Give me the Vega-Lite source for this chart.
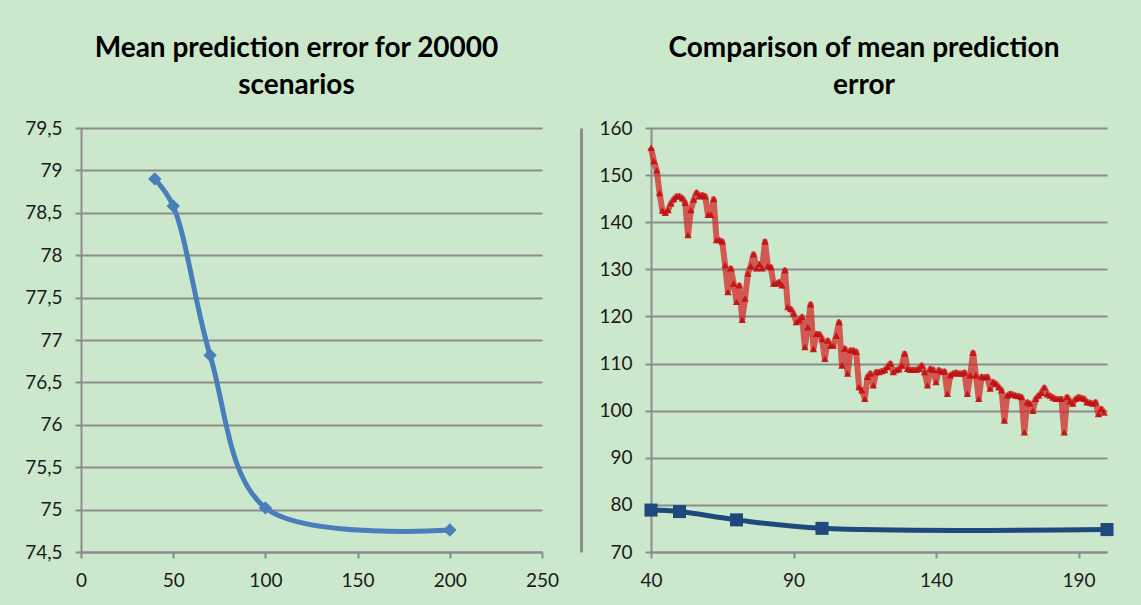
{
  "$schema": "https://vega.github.io/schema/vega-lite/v6.json",
  "background": "#CCE8CC",
  "padding": {"left": 24, "top": 35, "right": 40, "bottom": 20},
  "spacing": 109,
  "bounds": "flush",
  "datasets": {
    "scen": [
      {"n": 40, "err": 78.9},
      {"n": 50, "err": 78.58},
      {"n": 70, "err": 76.82},
      {"n": 100, "err": 75.02},
      {"n": 200, "err": 74.76}
    ],
    "red": [
      {"n":40,"err":155.8},{"n":41,"err":153},{"n":42,"err":151},{"n":43,"err":146.2},{"n":44,"err":142.5},
      {"n":45,"err":142},{"n":46,"err":142.6},{"n":47,"err":144},{"n":48,"err":144.9},{"n":49,"err":145.5},
      {"n":50,"err":145.5},{"n":51,"err":145.1},{"n":52,"err":144.1},{"n":53,"err":137.3},{"n":54,"err":142.6},
      {"n":55,"err":144.8},{"n":56,"err":146.3},{"n":57,"err":145.5},{"n":58,"err":145.8},{"n":59,"err":145.5},
      {"n":60,"err":141.6},{"n":61,"err":141.6},{"n":62,"err":144.9},{"n":63,"err":136.2},{"n":64,"err":136.2},
      {"n":65,"err":135.9},{"n":66,"err":130.9},{"n":67,"err":125.2},{"n":68,"err":130.2},{"n":69,"err":127},
      {"n":70,"err":123.1},{"n":71,"err":126.6},{"n":72,"err":119.3},{"n":73,"err":123.8},{"n":74,"err":129.1},
      {"n":75,"err":130.7},{"n":76,"err":133.2},{"n":77,"err":130.2},{"n":78,"err":131.1},{"n":79,"err":130.2},
      {"n":80,"err":135.9},{"n":81,"err":130.7},{"n":82,"err":130.5},{"n":83,"err":127},{"n":84,"err":127},
      {"n":85,"err":127.3},{"n":86,"err":126.6},{"n":87,"err":129.8},{"n":88,"err":122},{"n":89,"err":121.6},
      {"n":90,"err":120.6},{"n":91,"err":118.8},{"n":92,"err":119.2},{"n":93,"err":119.9},{"n":94,"err":113.5},
      {"n":95,"err":117.7},{"n":96,"err":122.6},{"n":97,"err":113.1},{"n":98,"err":116.3},{"n":99,"err":116.3},
      {"n":100,"err":115.2},{"n":101,"err":111},{"n":102,"err":114.9},{"n":103,"err":113.8},{"n":104,"err":113.8},
      {"n":105,"err":115.9},{"n":106,"err":118.8},{"n":107,"err":109.6},{"n":108,"err":113.2},{"n":109,"err":107.9},
      {"n":110,"err":112.8},{"n":111,"err":112.8},{"n":112,"err":112.5},{"n":113,"err":105},{"n":114,"err":104.3},
      {"n":115,"err":102.5},{"n":116,"err":107.2},{"n":117,"err":107.9},{"n":118,"err":105.4},{"n":119,"err":108.2},
      {"n":120,"err":108.2},{"n":121,"err":108.4},{"n":122,"err":108.6},{"n":123,"err":109.3},{"n":124,"err":110},
      {"n":125,"err":108.2},{"n":126,"err":108.6},{"n":127,"err":108.8},{"n":128,"err":109.6},{"n":129,"err":112.1},
      {"n":130,"err":108.9},{"n":131,"err":108.7},{"n":132,"err":108.7},{"n":133,"err":108.7},{"n":134,"err":108.9},
      {"n":135,"err":109.6},{"n":136,"err":108.2},{"n":137,"err":105.4},{"n":138,"err":108.9},{"n":139,"err":108.7},
      {"n":140,"err":106.1},{"n":141,"err":108.6},{"n":142,"err":108.3},{"n":143,"err":108.3},{"n":144,"err":103.6},
      {"n":145,"err":107.5},{"n":146,"err":107.9},{"n":147,"err":108.1},{"n":148,"err":107.9},{"n":149,"err":107.9},
      {"n":150,"err":108.1},{"n":151,"err":103.6},{"n":152,"err":107.5},{"n":153,"err":112.3},{"n":154,"err":107.5},
      {"n":155,"err":102.5},{"n":156,"err":107.2},{"n":157,"err":107.1},{"n":158,"err":107.2},{"n":159,"err":104.7},
      {"n":160,"err":106.1},{"n":161,"err":105.7},{"n":162,"err":105},{"n":163,"err":104.3},{"n":164,"err":97.9},
      {"n":165,"err":103.2},{"n":166,"err":103.6},{"n":167,"err":103.4},{"n":168,"err":103.2},{"n":169,"err":103.1},
      {"n":170,"err":102.9},{"n":171,"err":95.4},{"n":172,"err":101.8},{"n":173,"err":101.5},{"n":174,"err":100},
      {"n":175,"err":102.5},{"n":176,"err":103.2},{"n":177,"err":103.8},{"n":178,"err":104.9},{"n":179,"err":103.5},
      {"n":180,"err":103.2},{"n":181,"err":102.8},{"n":182,"err":102.5},{"n":183,"err":102.5},{"n":184,"err":102.5},
      {"n":185,"err":95.4},{"n":186,"err":102.9},{"n":187,"err":102},{"n":188,"err":101.5},{"n":189,"err":102.5},
      {"n":190,"err":102.9},{"n":191,"err":102.7},{"n":192,"err":102.5},{"n":193,"err":101.8},{"n":194,"err":101.7},
      {"n":195,"err":101.5},{"n":196,"err":101.8},{"n":197,"err":99.3},{"n":198,"err":100.4},{"n":199,"err":99.6}
    ]
  },
  "hconcat": [
    {
      "width": 461,
      "height": 424,
      "title": {"text": ["Mean prediction error for 20000", "scenarios"]},
      "resolve": {"axis": {"y": "independent"}},
      "layer": [
        {
          "data": {"name": "scen"},
          "mark": {"type": "line", "interpolate": "catmull-rom", "color": "#4A7EBB", "strokeWidth": 5},
          "encoding": {
            "x": {"field": "n", "type": "quantitative", "scale": {"domain": [0, 250], "nice": false},
                  "axis": {"values": [0, 50, 100, 150, 200, 250]}},
            "y": {"field": "err", "type": "quantitative", "scale": {"domain": [74.5, 79.5], "nice": false, "zero": false},
                  "axis": {"values": [74.5, 75, 75.5, 76, 76.5, 77, 77.5, 78, 78.5, 79, 79.5],
                           "labelExpr": "replace(toString(datum.value), '.', ',')"}}
          }
        },
        {
          "data": {"name": "scen"},
          "mark": {"type": "point", "shape": "diamond", "filled": true, "size": 180, "color": "#4A7EBB", "opacity": 1},
          "encoding": {
            "x": {"field": "n", "type": "quantitative"},
            "y": {"field": "err", "type": "quantitative", "axis": {"orient": "right", "offset": 39, "labels": false, "ticks": false, "grid": false, "domainWidth": 3, "domainColor": "#8C8C8C"}}
          }
        }
      ]
    },
    {
      "width": 456,
      "height": 424,
      "title": {"text": ["Comparison of mean prediction", "error"]},
      "layer": [
        {
          "data": {"name": "red"},
          "mark": {"type": "line", "color": "#D42A2A", "opacity": 0.75, "strokeWidth": 6, "strokeJoin": "round"},
          "encoding": {
            "x": {"field": "n", "type": "quantitative", "scale": {"domain": [40, 200], "nice": false, "zero": false},
                  "axis": {"values": [40, 90, 140, 190]}},
            "y": {"field": "err", "type": "quantitative", "scale": {"domain": [70, 160], "nice": false, "zero": false},
                  "axis": {"values": [70, 80, 90, 100, 110, 120, 130, 140, 150, 160]}}
          }
        },
        {
          "data": {"name": "red"},
          "mark": {"type": "point", "shape": "triangle-up", "filled": true, "size": 55, "color": "#C01010", "opacity": 0.9},
          "encoding": {
            "x": {"field": "n", "type": "quantitative"},
            "y": {"field": "err", "type": "quantitative"}
          }
        },
        {
          "data": {"name": "scen"},
          "mark": {"type": "line", "interpolate": "catmull-rom", "color": "#1F497D", "strokeWidth": 5},
          "encoding": {
            "x": {"field": "n", "type": "quantitative"},
            "y": {"field": "err", "type": "quantitative"}
          }
        },
        {
          "data": {"name": "scen"},
          "mark": {"type": "point", "shape": "square", "filled": true, "size": 170, "color": "#1F497D", "opacity": 1},
          "encoding": {
            "x": {"field": "n", "type": "quantitative"},
            "y": {"field": "err", "type": "quantitative"}
          }
        }
      ]
    }
  ],
  "config": {
    "view": {"stroke": null},
    "axis": {
      "title": null,
      "labelFont": "Lato",
      "labelFontSize": 19,
      "labelColor": "#1a1a1a",
      "domainColor": "#8C8C8C",
      "domainWidth": 2,
      "tickColor": "#8C8C8C",
      "tickWidth": 2,
      "tickSize": 6,
      "gridColor": "#8C8C8C",
      "gridWidth": 2
    },
    "axisX": {"grid": false, "labelPadding": 13, "labelFlush": false},
    "axisY": {"grid": true, "labelPadding": 13},
    "title": {
      "font": "Lato",
      "fontSize": 28,
      "fontWeight": "bold",
      "color": "#000000",
      "lineHeight": 37,
      "anchor": "middle",
      "dx": -15,
      "offset": 19
    }
  }
}
